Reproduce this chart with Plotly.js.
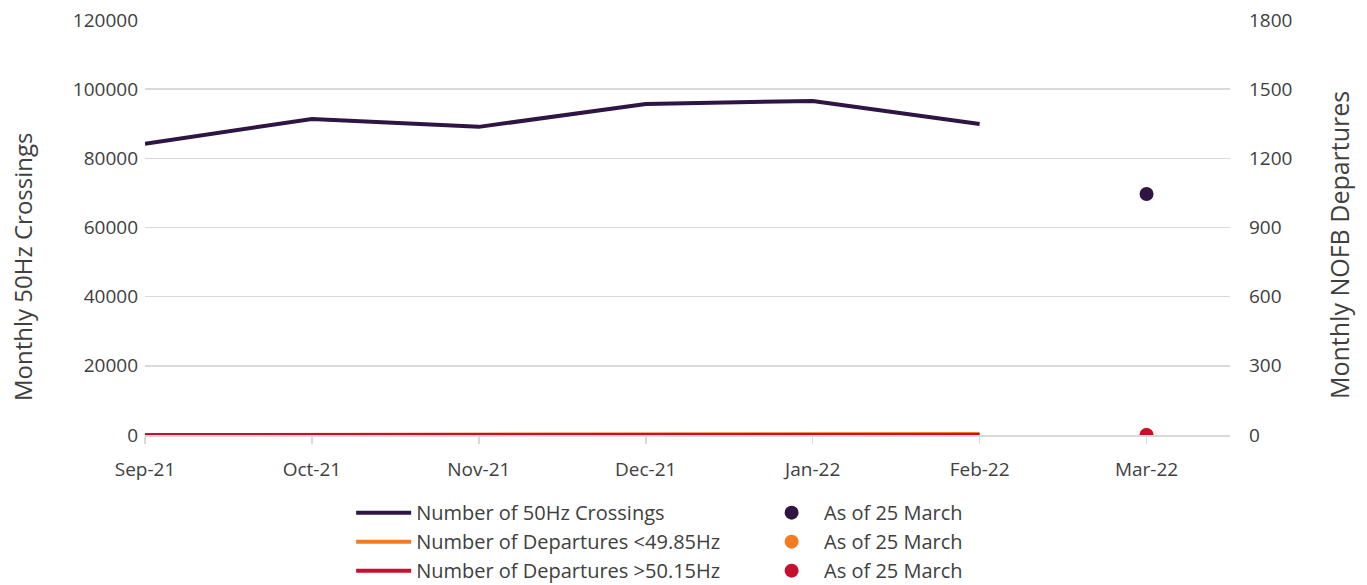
<!DOCTYPE html>
<html>
<head>
<meta charset="utf-8">
<script src="https://cdn.plot.ly/plotly-3.0.1.min.js"></script>
<style>html,body{margin:0;padding:0;background:#fff;}#chart{width:1367px;height:585px;}</style>
</head>
<body>
<div id="chart"></div>
<script>
const months = ["Sep-21","Oct-21","Nov-21","Dec-21","Jan-22","Feb-22","Mar-22"];
const lineMonths = ["Sep-21","Oct-21","Nov-21","Dec-21","Jan-22","Feb-22"];
const crossings = [84200, 91400, 89100, 95700, 96600, 89900];
const departuresLow = [0, 0, 0, 3, 4, 4];
const departuresHigh = [0, 0, 0, 0, 0, 0];
const marchLabel = ["Mar-22"];
const marchCrossings = [69700];
const marchLow = [0];
const marchHigh = [0];
const leftTitle = "Monthly 50Hz Crossings";
const rightTitle = "Monthly NOFB Departures";

const cPurple = "#2E1543", cOrange = "#F47B20", cRed = "#C8102E";
const traces = [
  {x: lineMonths, y: crossings, type: "scatter", mode: "lines", name: "Number of 50Hz Crossings",
   line: {color: cPurple, width: 4}, yaxis: "y", legend: "legend"},
  {x: lineMonths, y: departuresLow, type: "scatter", mode: "lines", name: "Number of Departures <49.85Hz",
   line: {color: cOrange, width: 4}, yaxis: "y2", legend: "legend"},
  {x: lineMonths, y: departuresHigh, type: "scatter", mode: "lines", name: "Number of Departures >50.15Hz",
   line: {color: cRed, width: 4}, yaxis: "y2", legend: "legend"},
  {x: marchLabel, y: marchCrossings, type: "scatter", mode: "markers", name: "As of 25 March",
   marker: {color: cPurple, size: 14}, yaxis: "y", legend: "legend2"},
  {x: marchLabel, y: marchLow, type: "scatter", mode: "markers", name: "As of 25 March",
   marker: {color: cOrange, size: 14}, yaxis: "y2", legend: "legend2"},
  {x: marchLabel, y: marchHigh, type: "scatter", mode: "markers", name: "As of 25 March",
   marker: {color: cRed, size: 14}, yaxis: "y2", legend: "legend2"}
];

const fam = "'Open Sans', 'Noto Sans', sans-serif";
const txt = "#404040";
const layout = {
  width: 1367, height: 585,
  margin: {l: 145, r: 137, t: 20, b: 150},
  paper_bgcolor: "#fff", plot_bgcolor: "#fff",
  font: {family: fam, size: 19, color: txt},
  showlegend: true,
  hovermode: false,
  xaxis: {
    type: "category", categoryorder: "array", categoryarray: months,
    range: [0, 6.5], showgrid: false, zeroline: false,
    showline: true, linecolor: "#d9d9d9", linewidth: 1.5,
    ticks: "outside", ticklen: 7, tickcolor: "#d9d9d9", tickwidth: 1.5,
    ticklabelstandoff: 10,
    tickfont: {size: 19, color: txt}
  },
  yaxis: {
    range: [0, 120000], dtick: 20000, tickformat: "d",
    showgrid: true, gridcolor: "#d9d9d9", gridwidth: 1.5, zeroline: false,
    tickfont: {size: 19, color: txt}, ticklabelstandoff: 6
  },
  yaxis2: {
    overlaying: "y", side: "right", range: [0, 1800], dtick: 300,
    showgrid: false, zeroline: false,
    tickfont: {size: 19, color: txt}, ticklabelstandoff: 18
  },
  annotations: [
    {text: leftTitle, xref: "paper", yref: "paper", x: (22 - 145) / 1085, y: (435 - 267) / 415,
     xanchor: "center", yanchor: "middle", textangle: -90, showarrow: false,
     font: {size: 24, color: txt, family: fam}},
    {text: rightTitle, xref: "paper", yref: "paper", x: (1339 - 145) / 1085, y: (435 - 245) / 415,
     xanchor: "center", yanchor: "middle", textangle: -90, showarrow: false,
     font: {size: 25, color: txt, family: fam}}
  ],
  legend: {
    x: 0.19, y: 0.157, xref: "paper", yref: "container", xanchor: "left", yanchor: "top", orientation: "v",
    font: {size: 20, color: txt}, tracegroupgap: 0, itemwidth: 55,
    bgcolor: "rgba(0,0,0,0)"
  },
  legend2: {
    x: 0.566, y: 0.157, xref: "paper", yref: "container", xanchor: "left", yanchor: "top", orientation: "v",
    font: {size: 20, color: txt}, tracegroupgap: 0, itemwidth: 55,
    bgcolor: "rgba(0,0,0,0)"
  }
};
Plotly.newPlot("chart", traces, layout, {displayModeBar: false, staticPlot: true});
</script>
</body>
</html>
